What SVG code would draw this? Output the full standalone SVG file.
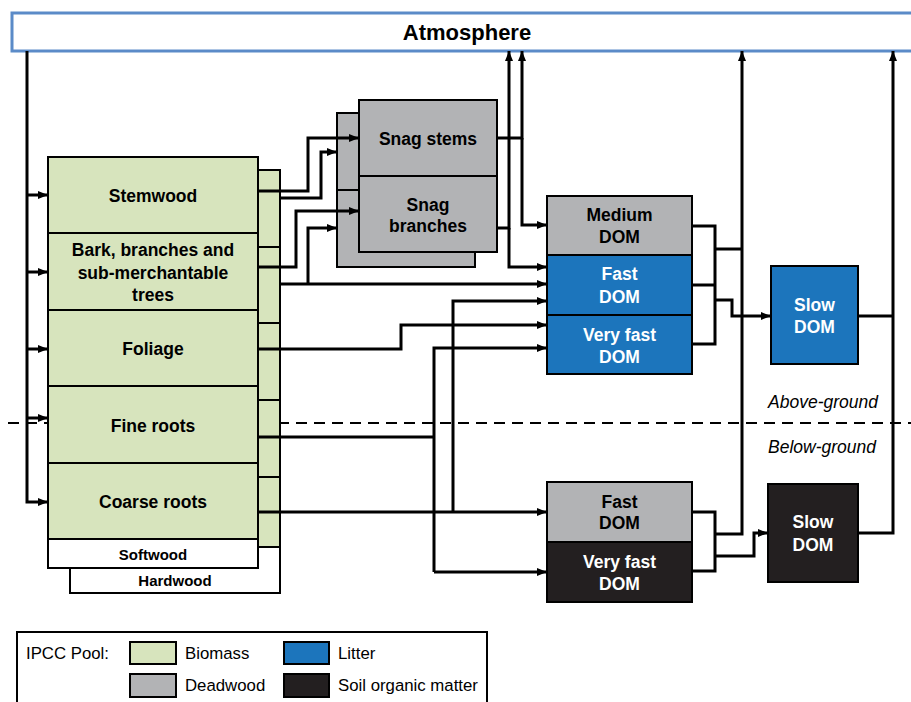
<svg xmlns="http://www.w3.org/2000/svg" width="911" height="702" viewBox="0 0 911 702">
<style>
.box{stroke:#000;stroke-width:2}
.bio{fill:#d7e4bd}
.dead{fill:#b2b3b5}
.lit{fill:#1c75bc}
.soil{fill:#231f20}
.wh{fill:#fff}
.t{font-family:"Liberation Sans",Arial,sans-serif;font-weight:bold;font-size:17.5px;text-anchor:middle;fill:#000}
.tw{fill:#fff}
.s{font-size:15px}
.lg{font-family:"Liberation Sans",Arial,sans-serif;font-size:16.8px;fill:#000}
.it{font-family:"Liberation Sans",Arial,sans-serif;font-style:italic;font-size:17.5px;text-anchor:end;fill:#000}
.c{fill:none;stroke:#000;stroke-width:3;stroke-linejoin:miter}
.a{marker-end:url(#ah)}
</style>
<defs>
<marker id="ah" markerUnits="userSpaceOnUse" markerWidth="12" markerHeight="10" refX="10" refY="5" orient="auto">
<path d="M0,1 L10,5 L0,9 Z" fill="#000"/>
</marker>
</defs>
<rect width="911" height="702" fill="#fff"/>
<line x1="8" y1="423" x2="911" y2="423" stroke="#000" stroke-width="2" stroke-dasharray="11,7"/>

<g id="atmosphere">
<rect x="12" y="13" width="912" height="38" fill="#fff" stroke="#5b8bc8" stroke-width="3"/>
<text class="t" x="467" y="40" style="font-size:22px">Atmosphere</text>
</g>

<g id="biomass-hardwood">
<rect class="box wh" x="70" y="170" width="210" height="423"/>
<rect class="box bio" x="70" y="170" width="210" height="377"/>
<path d="M258,247 H280 M258,323 H280 M258,400 H280 M258,477 H280" stroke="#000" stroke-width="2"/>
<text class="t s" x="175" y="586">Hardwood</text>
</g>

<g id="stemwood"><rect class="box bio" x="48" y="157" width="210" height="76"/><text class="t" x="153" y="202">Stemwood</text></g>
<g id="bark"><rect class="box bio" x="48" y="233" width="210" height="77"/><text class="t" x="153" y="256">Bark, branches and</text><text class="t" x="153" y="279">sub-merchantable</text><text class="t" x="153" y="301">trees</text></g>
<g id="foliage"><rect class="box bio" x="48" y="310" width="210" height="76"/><text class="t" x="153" y="355">Foliage</text></g>
<g id="fine-roots"><rect class="box bio" x="48" y="386" width="210" height="77"/><text class="t" x="153" y="432">Fine roots</text></g>
<g id="coarse-roots"><rect class="box bio" x="48" y="463" width="210" height="76"/><text class="t" x="153" y="508">Coarse roots</text></g>
<g id="softwood"><rect class="box wh" x="48" y="539" width="210" height="29"/><text class="t s" x="153" y="560">Softwood</text></g>

<g id="snag-hardwood"><rect class="box dead" x="337" y="113" width="138" height="154"/><line x1="337" y1="190" x2="360" y2="190" stroke="#000" stroke-width="2"/></g>
<g id="snag-stems"><rect class="box dead" x="359" y="100" width="138" height="76"/><text class="t" x="428" y="145">Snag stems</text></g>
<g id="snag-branches"><rect class="box dead" x="359" y="176" width="138" height="76"/><text class="t" x="428" y="211">Snag</text><text class="t" x="428" y="232">branches</text></g>

<g id="medium-dom"><rect class="box dead" x="547" y="196" width="145" height="59"/><text class="t" x="619.5" y="221">Medium</text><text class="t" x="619.5" y="243">DOM</text></g>
<g id="fast-dom-ag"><rect class="box lit" x="547" y="255" width="145" height="60"/><text class="t tw" x="619.5" y="280">Fast</text><text class="t tw" x="619.5" y="303">DOM</text></g>
<g id="very-fast-dom-ag"><rect class="box lit" x="547" y="315" width="145" height="59"/><text class="t tw" x="619.5" y="341">Very fast</text><text class="t tw" x="619.5" y="363">DOM</text></g>
<g id="slow-dom-ag"><rect class="box lit" x="771" y="266" width="87" height="98"/><text class="t tw" x="814.5" y="311">Slow</text><text class="t tw" x="814.5" y="333">DOM</text></g>

<g id="fast-dom-bg"><rect class="box dead" x="547" y="482" width="145" height="60"/><text class="t" x="619.5" y="508">Fast</text><text class="t" x="619.5" y="529">DOM</text></g>
<g id="very-fast-dom-bg"><rect class="box soil" x="547" y="542" width="145" height="60"/><text class="t tw" x="619.5" y="568">Very fast</text><text class="t tw" x="619.5" y="590">DOM</text></g>
<g id="slow-dom-bg"><rect class="box soil" x="768" y="484" width="90" height="98"/><text class="t tw" x="813" y="528">Slow</text><text class="t tw" x="813" y="551">DOM</text></g>

<g id="labels">
<text class="it" x="878" y="408">Above-ground</text>
<text class="it" x="876" y="453">Below-ground</text>
</g>

<g id="connectors">
<path class="c a" d="M27,51 V502 H48"/>
<path class="c a" d="M27,195 H48"/>
<path class="c a" d="M27,272 H48"/>
<path class="c a" d="M27,349 H48"/>
<path class="c a" d="M27,418 H48"/>

<path class="c a" d="M258,191 H308 V138 H359"/>
<path class="c a" d="M280,198 H321 V152 H337"/>
<path class="c a" d="M258,267 H296 V211 H359"/>
<path class="c a" d="M280,284 H547"/>
<path class="c a" d="M308,284 V228 H337"/>
<path class="c a" d="M258,349 H401 V325 H547"/>
<path class="c" d="M258,437 H434"/>
<path class="c a" d="M434,572 V348 H547"/>
<path class="c a" d="M434,572 H547"/>
<path class="c a" d="M258,512 H547"/>
<path class="c a" d="M453,512 V301 H547"/>

<path class="c a" d="M497,138 H522 V51"/>
<path class="c a" d="M522,138 V225 H547"/>
<path class="c a" d="M497,228 H509 V51"/>
<path class="c a" d="M509,228 V267 H547"/>

<path class="c" d="M692,226 H715 V344 H692"/>
<path class="c" d="M692,285 H715"/>
<path class="c" d="M715,249 H742"/>
<path class="c a" d="M715,300 H732 V316 H771"/>
<path class="c a" d="M715,534 H742 V51"/>

<path class="c" d="M692,512 H715 V571 H692"/>
<path class="c a" d="M715,556 H754 V533 H768"/>

<path class="c" d="M858,316 H893"/>
<path class="c a" d="M858,533 H893 V51"/>
</g>

<g id="legend">
<rect x="17" y="632" width="470" height="80" fill="#fff" stroke="#000" stroke-width="2"/>
<text class="lg" x="26" y="659">IPCC Pool:</text>
<rect class="box bio" x="130" y="642" width="46" height="22"/>
<text class="lg" x="185" y="659">Biomass</text>
<rect class="box lit" x="284" y="642" width="45" height="22"/>
<text class="lg" x="338" y="659">Litter</text>
<rect class="box dead" x="130" y="674" width="46" height="23"/>
<text class="lg" x="185" y="691">Deadwood</text>
<rect class="box soil" x="284" y="674" width="45" height="23"/>
<text class="lg" x="338" y="691">Soil organic matter</text>
</g>
</svg>
